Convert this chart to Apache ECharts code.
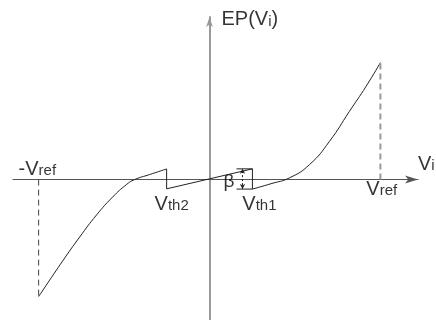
<!DOCTYPE html>
<html>
<head>
<meta charset="utf-8">
<script src="https://cdn.jsdelivr.net/npm/echarts@6/dist/echarts.min.js"></script>
<style>
  html, body { margin: 0; padding: 0; background: #fff; }
  #chart { width: 436px; height: 320px; }
</style>
</head>
<body>
<div id="chart"></div>
<script>
// Reference voltage and comparator thresholds (Vi units, Vref = 1)
const vRef = 1;
const vTh = 0.251;

// Left branch of the error profile, from -Vref up to Vth2
const leftBranchVi = [-1, -0.86, -0.76, -0.661, -0.567, -0.485, -0.439, -0.351, -0.251];
const leftBranchEP = [-1, -0.697, -0.491, -0.302, -0.149, -0.041, 0.0, 0.043, 0.091];

// Linear middle segment between the two thresholds (with the jumps)
const middleVi = [-0.251, -0.251, 0.251, 0.251];
const middleEP = [0.091, -0.079, 0.092, -0.081];

// Right branch, from Vth1 up to +Vref
const rightBranchVi = [0.251, 0.36, 0.468, 0.585, 0.702, 0.819, 0.916, 1.0];
const rightBranchEP = [-0.081, -0.035, 0.015, 0.128, 0.327, 0.584, 0.797, 1.0];

// Beta step marker next to Vth1
const betaLeft = 0.158;
const betaArrowVi = 0.193;
const betaTop = 0.092;
const betaBottom = -0.081;

const pairs = (xs, ys) => xs.map((x, i) => [x, ys[i]]);

const FONT = '"Liberation Sans", Arial, sans-serif';
const rich = {
  v: { fontFamily: FONT, fontSize: 20, color: '#000', verticalAlign: 'bottom' },
  s: { fontFamily: FONT, fontSize: 15, color: '#000', verticalAlign: 'bottom', padding: [0, 0, 1, 0] },
  b: { fontFamily: FONT, fontSize: 19, color: '#000', verticalAlign: 'bottom' }
};

function textPoint(value, text, pos, align) {
  return {
    value: value,
    label: {
      show: true,
      formatter: text,
      position: pos,
      align: align || 'left',
      verticalAlign: 'bottom',
      rich: rich
    }
  };
}

const labelPoints = [
  textPoint([-vRef, 0], '{v|-V}{s|ref}', [-20, 0]),
  textPoint([-vTh, 0], '{v|V}{s|th2}', [-12, 35]),
  textPoint([vTh, 0], '{v|V}{s|th1}', [-10, 35]),
  textPoint([vRef, 0], '{v|V}{s|ref}', [-14, 20]),
  textPoint([1.22, 0], '{v|V}{s|i}', [0, -5]),
  textPoint([0, 1.39], '{v|EP(V}{s|i}{v|)}', [12, 13]),
  textPoint([betaLeft, 0], '{b|β}', [-2, 12], 'right')
];

const chart = echarts.init(document.getElementById('chart'), null, { renderer: 'canvas' });

const curveStyle = { color: '#222', width: 1 };

chart.setOption({
  animation: false,
  backgroundColor: '#fff',
  grid: { left: 13, right: 18, top: 17, bottom: 0 },
  xAxis: {
    type: 'value',
    min: -1.15,
    max: 1.22,
    axisLine: {
      onZero: true,
      symbol: ['none', 'arrow'],
      symbolSize: [6, 13],
      lineStyle: { color: '#555', width: 1 }
    },
    axisTick: { show: false },
    axisLabel: { show: false },
    splitLine: { show: false }
  },
  yAxis: {
    type: 'value',
    min: -1.2,
    max: 1.39,
    axisLine: {
      onZero: true,
      symbol: ['none', 'arrow'],
      symbolSize: [5, 10],
      lineStyle: { color: '#999', width: 2 }
    },
    axisTick: { show: false },
    axisLabel: { show: false },
    splitLine: { show: false }
  },
  series: [
    {
      name: 'left',
      type: 'line',
      data: pairs(leftBranchVi, leftBranchEP),
      smooth: 0.5,
      showSymbol: false,
      lineStyle: curveStyle
    },
    {
      name: 'middle',
      type: 'line',
      data: pairs(middleVi, middleEP),
      showSymbol: false,
      lineStyle: curveStyle
    },
    {
      name: 'right',
      type: 'line',
      data: pairs(rightBranchVi, rightBranchEP),
      smooth: 0.5,
      showSymbol: false,
      lineStyle: curveStyle
    },
    {
      name: 'negRef',
      type: 'line',
      data: [[-vRef, 0], [-vRef, leftBranchEP[0]]],
      showSymbol: false,
      lineStyle: { color: '#444', width: 1, type: [6, 4] }
    },
    {
      name: 'posRef',
      type: 'line',
      data: [[vRef, 0], [vRef, rightBranchEP[rightBranchEP.length - 1]]],
      showSymbol: false,
      lineStyle: { color: '#999', width: 2, type: [6, 4] }
    },
    {
      name: 'betaTop',
      type: 'line',
      data: [[betaLeft, betaTop], [vTh, betaTop]],
      showSymbol: false,
      lineStyle: curveStyle
    },
    {
      name: 'betaBottom',
      type: 'line',
      data: [[betaLeft, betaBottom], [vTh, betaBottom]],
      showSymbol: false,
      lineStyle: curveStyle,
      markLine: {
        silent: true,
        symbol: ['arrow', 'arrow'],
        symbolSize: [4, 5],
        label: { show: false },
        lineStyle: { color: '#222', width: 1, type: [2, 2] },
        data: [[{ coord: [betaArrowVi, betaBottom] }, { coord: [betaArrowVi, betaTop] }]]
      }
    },
    {
      name: 'labels',
      type: 'scatter',
      symbolSize: 0.1,
      itemStyle: { color: 'transparent' },
      data: labelPoints
    }
  ]
});
</script>
</body>
</html>
